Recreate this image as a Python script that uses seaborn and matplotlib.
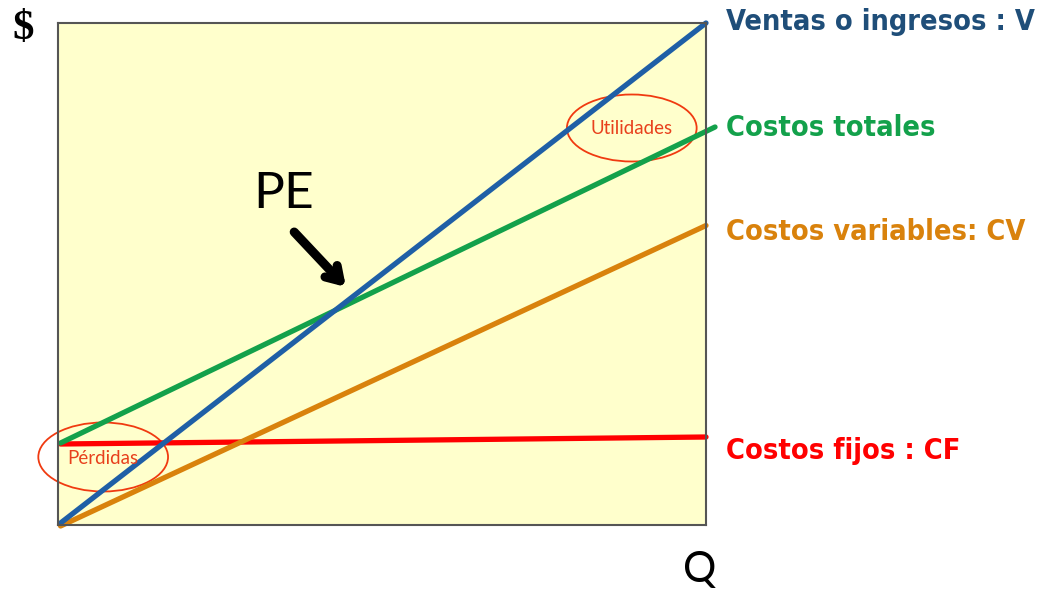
import matplotlib
matplotlib.use("Agg")
import matplotlib.pyplot as plt
from matplotlib.patches import Ellipse
from matplotlib import font_manager
import seaborn as sns

# datos del punto de equilibrio (escala relativa 0-100)
q = [0, 100]
q_totales = [0, 101.4]
ventas = [0, 100]
costos_totales = [16.0, 79.2]
costos_variables = [-0.6, 59.5]
costos_fijos = [15.8, 17.2]

etiquetas = ["Ventas o ingresos : V", "Costos totales", "Costos variables: CV", "Costos fijos : CF"]
colores = ["#1f5fa6", "#13a14b", "#d9820c", "#ff0000"]
colores_txt = ["#1f4e79", "#13a14b", "#d9820c", "#ff0000"]

sns.set_style("white")
plt.rcParams['font.family'] = ['DejaVu Sans']
plt.rcParams['text.color'] = 'black'

# buscar fuente condensada para las etiquetas
narrow = None
for f in font_manager.fontManager.ttflist:
    if 'Condensed' in f.fname and 'Bold' in f.fname and 'Oblique' not in f.fname:
        narrow = f.fname
        break

fig = plt.figure(figsize=(10.38, 5.91), dpi=100)
ax = fig.add_axes([58/1038, 1-525/591, 648/1038, 502/591])
ax.set_facecolor("#ffffcc")

lw = 3.8
sns.lineplot(x=q, y=costos_fijos, ax=ax, color=colores[3], lw=lw, clip_on=False)
sns.lineplot(x=q, y=costos_variables, ax=ax, color=colores[2], lw=lw, clip_on=False)
sns.lineplot(x=q_totales, y=costos_totales, ax=ax, color=colores[1], lw=lw, clip_on=False)
sns.lineplot(x=q, y=ventas, ax=ax, color=colores[0], lw=lw, clip_on=False)

ax.set_xlim(-0.4, 100)
ax.set_ylim(-0.4, 100)
ax.set_xticks([])
ax.set_yticks([])
for s in ax.spines.values():
    s.set_color("#555555")
    s.set_linewidth(1.5)

# elipses de perdidas y utilidades
ax.add_patch(Ellipse((6.6, 13.2), 20.1, 13.8, fill=False, ec="#f03a10", lw=1.3, clip_on=False))
ax.text(6.6, 13.0, "Pérdidas", color="#e8401c", fontsize=13.5, family="Lato", ha="center", va="center")
ax.add_patch(Ellipse((88.5, 79.0), 20.1, 13.4, fill=False, ec="#f03a10", lw=1.3, clip_on=False))
ax.text(88.5, 78.8, "Utilidades", color="#e8401c", fontsize=13.5, family="Lato", ha="center", va="center")

# PE y flecha
ax.text(34.6, 65.8, "PE", fontsize=37, family="Lato", color="black", ha="center", va="center")
ax.annotate("", xy=(44.5, 46.8), xytext=(35.9, 58.6),
            arrowprops=dict(arrowstyle="->, head_length=0.95, head_width=0.6", lw=6.5,
                            color="black", capstyle="round", joinstyle="round"))

# etiquetas de las rectas
pos_y = [22, 128, 232, 451]
fp = font_manager.FontProperties(fname=narrow, size=20.7) if narrow else font_manager.FontProperties(weight="bold", size=18)
for et, c, py in zip(etiquetas, colores_txt, pos_y):
    fig.text(726/1038, 1-py/591, et, color=c, fontproperties=fp, va="center", ha="left")

fig.text(23/1038, 1-29/591, "$", fontsize=31, fontweight="bold", family="Liberation Serif", ha="center", va="center")
fig.text(700/1038, 1-570/591, "Q", fontsize=30, family="Lato", ha="center", va="center")

fig.savefig("out.png", dpi=100)
